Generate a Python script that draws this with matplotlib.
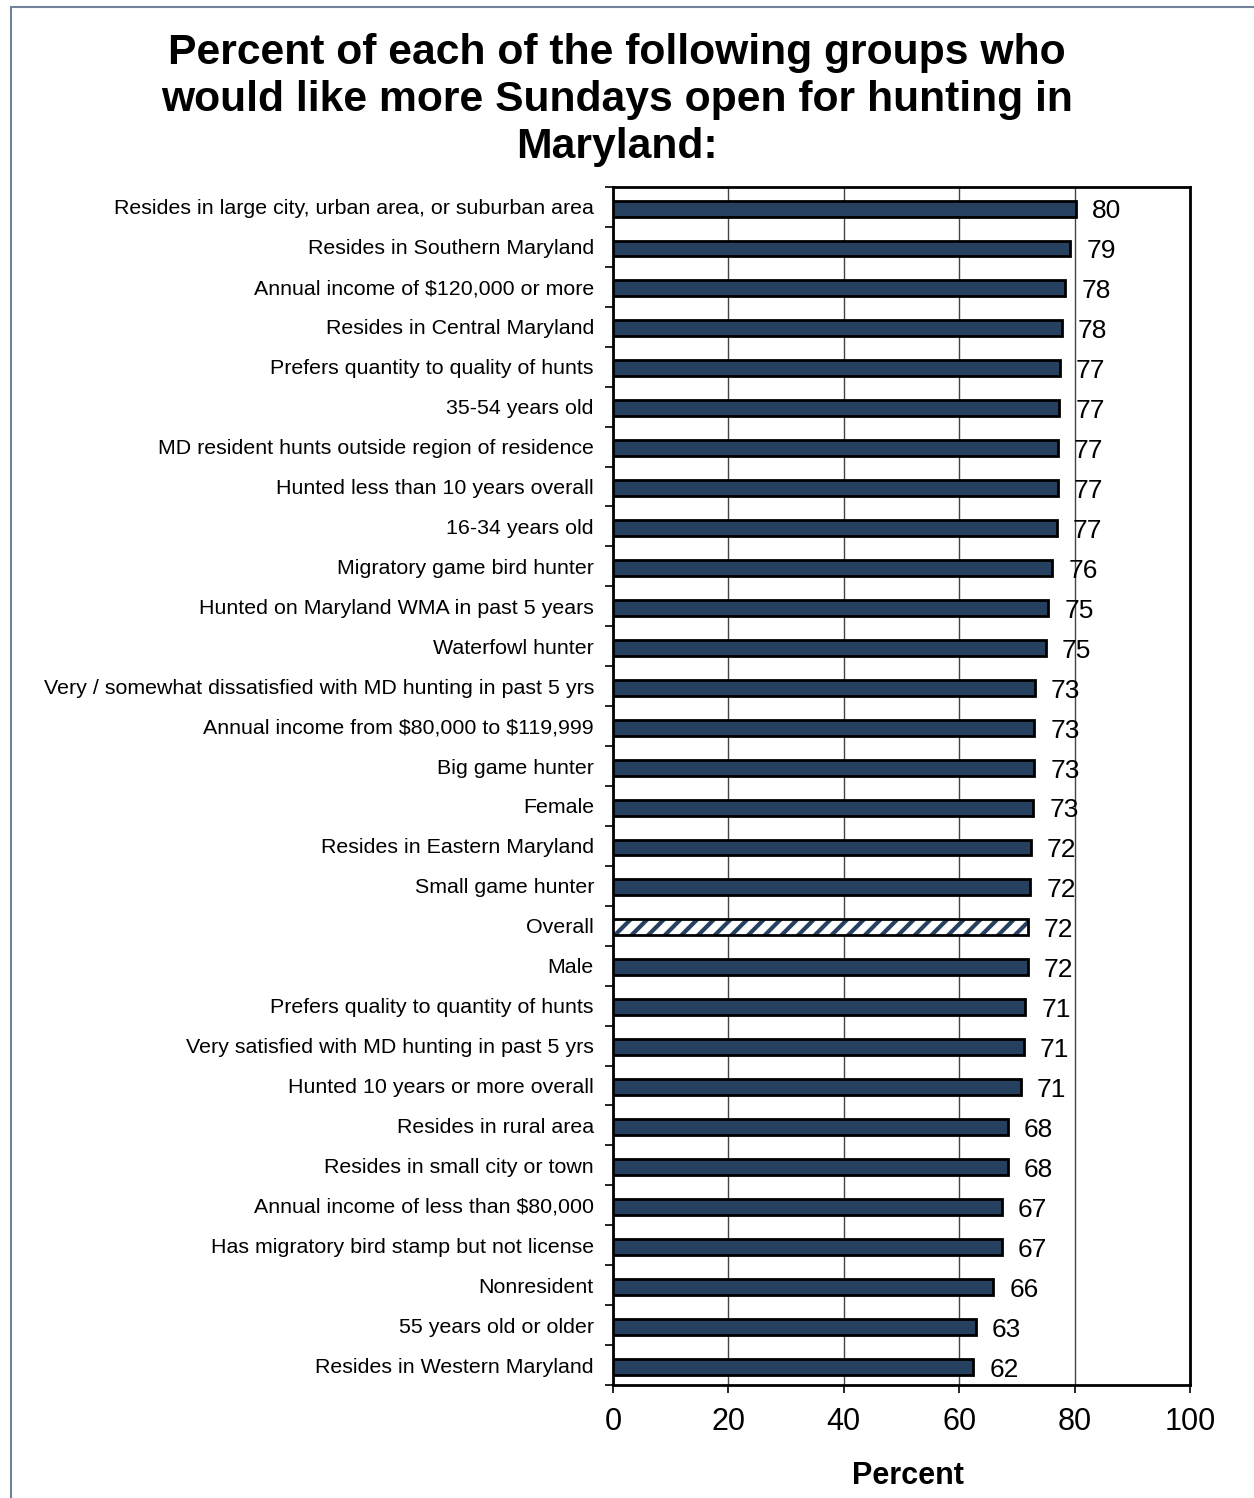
import numpy as np
import matplotlib.pyplot as plt
import matplotlib.transforms as mtransforms
from matplotlib.patches import Rectangle

# groups, top to bottom as they appear on the chart
groups = [
    "Resides in large city, urban area, or suburban area",
    "Resides in Southern Maryland",
    "Annual income of $120,000 or more",
    "Resides in Central Maryland",
    "Prefers quantity to quality of hunts",
    "35-54 years old",
    "MD resident hunts outside region of residence",
    "Hunted less than 10 years overall",
    "16-34 years old",
    "Migratory game bird hunter",
    "Hunted on Maryland WMA in past 5 years",
    "Waterfowl hunter",
    "Very / somewhat dissatisfied with MD hunting in past 5 yrs",
    "Annual income from $80,000 to $119,999",
    "Big game hunter",
    "Female",
    "Resides in Eastern Maryland",
    "Small game hunter",
    "Overall",
    "Male",
    "Prefers quality to quantity of hunts",
    "Very satisfied with MD hunting in past 5 yrs",
    "Hunted 10 years or more overall",
    "Resides in rural area",
    "Resides in small city or town",
    "Annual income of less than $80,000",
    "Has migratory bird stamp but not license",
    "Nonresident",
    "55 years old or older",
    "Resides in Western Maryland",
]
# bar lengths
values = [80.2, 79.2, 78.4, 77.8, 77.4, 77.3, 77.1, 77.1, 76.9, 76.1,
          75.4, 75.0, 73.1, 73.0, 73.0, 72.8, 72.4, 72.3, 71.9, 71.9,
          71.4, 71.2, 70.7, 68.4, 68.4, 67.4, 67.4, 65.9, 62.9, 62.4]
# printed labels
labels = [80, 79, 78, 78, 77, 77, 77, 77, 77, 76,
          75, 75, 73, 73, 73, 73, 72, 72, 72, 72,
          71, 71, 71, 68, 68, 67, 67, 66, 63, 62]

navy = "#26405f"
font = "Liberation Sans"
plt.rcParams["hatch.linewidth"] = 3.0
plt.rcParams["hatch.color"] = navy

fig = plt.figure(figsize=(12.54, 14.98), dpi=100)
ax = fig.add_axes([613 / 1254, 1 - 1385 / 1498, 577 / 1254, 1198 / 1498])

y = np.arange(len(groups))
for i, (g, v) in enumerate(zip(groups, values)):
    if g == "Overall":
        ax.barh(i + 0.04, v, height=0.4, color="white", edgecolor=navy,
                hatch="//", linewidth=0, zorder=3)
        ax.barh(i + 0.04, v, height=0.4, color="none", edgecolor="black",
                linewidth=2, zorder=4)
    else:
        ax.barh(i + 0.04, v, height=0.4, color=navy, edgecolor="black",
                linewidth=2, zorder=3)
    ax.text(v + 2.8, i + 0.05, str(labels[i]), va="center_baseline",
            ha="left", fontsize=19, family=font, zorder=5)

ax.set_xlim(0, 100)
ax.set_ylim(len(groups) - 0.5, -0.5)
ax.set_xticks([0, 20, 40, 60, 80, 100])
ax.set_yticks(y)
ax.set_yticklabels([g.replace("$", r"\$") for g in groups],
                   fontsize=15.4, family=font)
# nudge category labels down a touch so they sit level with the bars
shift = mtransforms.ScaledTranslation(0, -2.5 / 72, fig.dpi_scale_trans)
for t in ax.get_yticklabels():
    t.set_transform(t.get_transform() + shift)
ax.set_yticks(np.arange(-0.5, len(groups), 1), minor=True)
ax.tick_params(axis="y", which="major", length=0, pad=13.7)
ax.tick_params(axis="y", which="minor", length=6, width=1.2)
ax.tick_params(axis="x", length=6, width=1.2, pad=10)
for t in ax.get_xticklabels():
    t.set_fontsize(22)
    t.set_family(font)
ax.grid(True, axis="x", color="#444444", linewidth=1, zorder=0)
ax.set_axisbelow(True)
for s in ax.spines.values():
    s.set_linewidth(2)

fig.text(908 / 1254, 1 - 1472 / 1498, "Percent", ha="center",
         va="center_baseline", fontsize=22, fontweight="bold", family=font)

fig.text(617 / 1254, 1 - 33 / 1498,
         "Percent of each of the following groups who\n"
         "would like more Sundays open for hunting in\nMaryland:",
         ha="center", va="top", fontsize=30.7, fontweight="bold",
         family=font, linespacing=1.22)

# thin border around the chart area
fig.patches.append(Rectangle((11 / 1254, -0.01), 1.1, 1 - 7 / 1498 + 0.01,
                             transform=fig.transFigure, fill=False,
                             edgecolor="#71839b", linewidth=1.5))

fig.savefig("out.png", dpi=100)
